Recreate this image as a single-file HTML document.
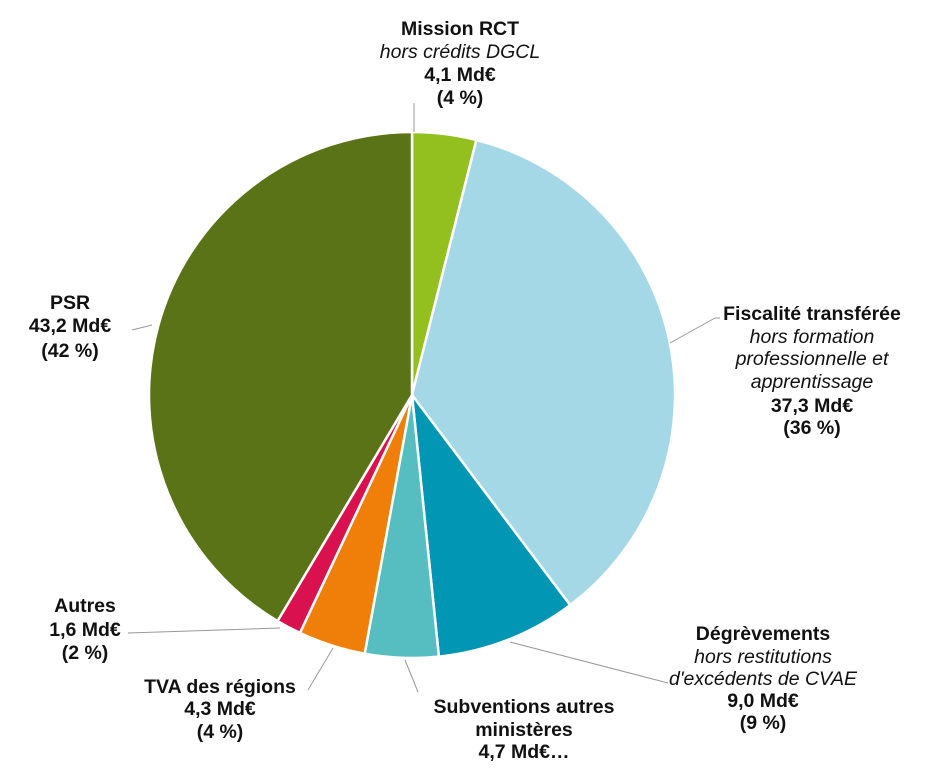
<!DOCTYPE html>
<html><head><meta charset="utf-8"><style>
body{margin:0;background:#fff}
svg{display:block}
text{font-family:"Liberation Sans",sans-serif;font-size:19.5px;fill:#111}
.b{font-weight:bold}.i{font-style:italic}
</style></head><body>
<svg id="c" width="928" height="781"></svg>
<script>
const categories=["Mission RCT","Fiscalité transférée","Dégrèvements","Subventions autres ministères","TVA des régions","Autres","PSR"];
const values=[4.1,37.3,9.0,4.7,4.3,1.6,43.2];
const colors=["#93c01f","#a5d8e6","#0096b4","#56bec0","#f07f09","#d9114f","#5a7316"];
const cx=412,cy=395,r=263;
const svg=document.getElementById('c');
const NS="http://www.w3.org/2000/svg";
const total=values.reduce((a,b)=>a+b,0);
let a0=0;
function pt(a,rr){return [cx+rr*Math.sin(a),cy-rr*Math.cos(a)];}
values.forEach((v,i)=>{
  const a1=a0+v/total*2*Math.PI;
  const p0=pt(a0,r),p1=pt(a1,r);
  const large=(a1-a0)>Math.PI?1:0;
  const p=document.createElementNS(NS,'path');
  p.setAttribute('d',`M${cx},${cy}L${p0[0]},${p0[1]}A${r},${r} 0 ${large} 1 ${p1[0]},${p1[1]}Z`);
  p.setAttribute('fill',colors[i]);p.setAttribute('stroke','#fff');p.setAttribute('stroke-width','2.5');
  
  
  svg.appendChild(p);
  a0=a1;
});
const lines=[[414,103,414,132],[670,343,715,318,720,318],[510,642,668,683],[405,660,418,692],[333,648,308,690],[280,628,128,633],[152,325,132,330]];
lines.forEach((l,i)=>{
  const pl=document.createElementNS(NS,'polyline');
  pl.setAttribute('points',l.join(' '));pl.setAttribute('fill','none');pl.setAttribute('stroke','#999');pl.setAttribute('stroke-width','1');
  
  
  svg.appendChild(pl);
});
const labels=[
 [460,[["Mission RCT","b",35],["hors crédits DGCL","i",58],["4,1 Md€","b",81],["(4 %)","b",104]]],
 [812,[["Fiscalité transférée","b",320],["hors formation","i",343],["professionnelle et","i",365],["apprentissage","i",388],["37,3 Md€","b",412],["(36 %)","b",434]]],
 [763,[["Dégrèvements","b",640],["hors restitutions","i",663],["d'excédents de CVAE","i",685],["9,0 Md€","b",707],["(9 %)","b",729]]],
 [524,[["Subventions autres","b",713],["ministères","b",736],["4,7 Md€…","b",758]]],
 [220,[["TVA des régions","b",693],["4,3 Md€","b",715],["(4 %)","b",738]]],
 [85,[["Autres","b",612],["1,6 Md€","b",636],["(2 %)","b",659]]],
 [70,[["PSR","b",309],["43,2 Md€","b",332],["(42 %)","b",357]]]
];
labels.forEach((L,i)=>{
  const t=document.createElementNS(NS,'text');
  t.setAttribute('text-anchor','middle');
  
  
  L[1].forEach(([s,c,y])=>{
    const ts=document.createElementNS(NS,'tspan');
    ts.setAttribute('x',L[0]);ts.setAttribute('y',y);ts.setAttribute('class',c);ts.textContent=s;t.appendChild(ts);
  });
  svg.appendChild(t);
});
</script>
</body></html>
